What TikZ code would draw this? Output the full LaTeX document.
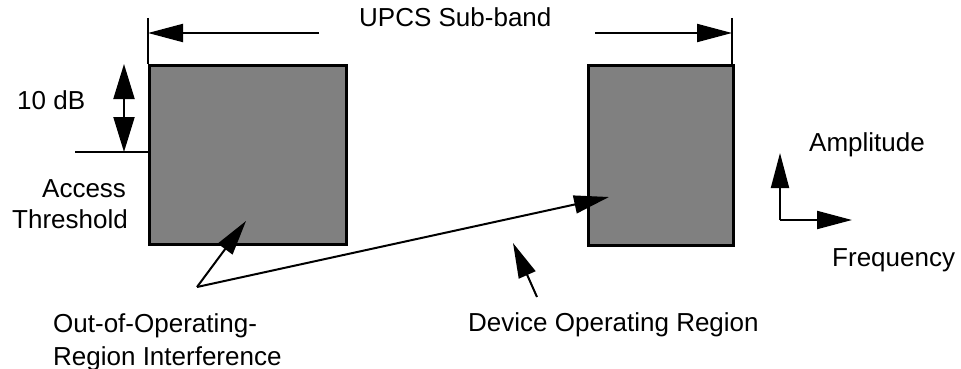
\documentclass[tikz,border=0pt]{standalone}
\usepackage{fontspec}
\setmainfont{Liberation Sans}
\usetikzlibrary{arrows.meta}
\begin{document}
\begin{tikzpicture}[x=1pt,y=-1pt,
  lbl/.style={anchor=base west,inner sep=0pt,font=\fontsize{26}{31}\selectfont},
  band/.style={draw=black,line width=2.6pt,fill=gray50,inner sep=0pt,anchor=north west},
  ln/.style={line width=2pt},
  arr/.style={line width=2pt,-{Triangle[length=35pt,width=18pt]}},
  darr/.style={line width=2pt,{Triangle[length=35pt,width=21pt]}-{Triangle[length=35pt,width=21pt]}}]
\definecolor{gray50}{HTML}{808080}
\useasboundingbox (0,0) rectangle (961,369);
% bands
\node[band,minimum width=197pt,minimum height=179pt] (lb) at (148,64) {};
\node[band,minimum width=145pt,minimum height=180pt] (rb) at (587,64) {};
% sub-band markers
\coordinate (ltop) at (148,18);
\coordinate (rtop) at (732,18);
\draw[ln] (ltop) -- (ltop |- lb.north);
\draw[ln] (rtop) -- (rtop |- rb.north);
\coordinate (la0) at (319,33);
\coordinate (la1) at (148,33);
\coordinate (ra0) at (595,33);
\coordinate (ra1) at (732,33);
\draw[arr] (la0) -- (la1);
\draw[arr] (ra0) -- (ra1);
\node[lbl] (upcs) at (359,27) {UPCS Sub-band};
% threshold
\coordinate (th0) at (75,152);
\coordinate (th1) at (148,152);
\draw[ln] (th0) -- (th1);
\coordinate (db0) at (124,64);
\coordinate (db1) at (124,152);
\draw[darr] (db0) -- (db1);
\node[lbl] (db) at (17,109) {10 dB};
\node[lbl] (acc) at (42,197) {Access};
\node[lbl] (thr) at (12,228) {Threshold};
% interference
\coordinate (ii) at (197,287);
\coordinate (it1) at (246,221);
\coordinate (it2) at (609,197);
\draw[arr] (ii) -- (it1);
\draw[arr] (ii) -- (it2);
\node[lbl] (oor1) at (53,332) {Out-of-Operating-};
\node[lbl] (oor2) at (53,365) {Region Interference};
% device operating region
\coordinate (do0) at (537,297);
\coordinate (do1) at (513,243);
\draw[arr] (do0) -- (do1);
\node[lbl] (dor) at (468,331) {Device Operating Region};
% axes
\coordinate (ax0) at (780,220);
\coordinate (axa) at (780,153);
\coordinate (axf) at (852,220);
\draw[arr] (ax0) -- (axa);
\draw[arr] (ax0) -- (axf);
\node[lbl] (amp) at (809,151) {Amplitude};
\node[lbl] (frq) at (832,266) {Frequency};
\end{tikzpicture}
\end{document}
